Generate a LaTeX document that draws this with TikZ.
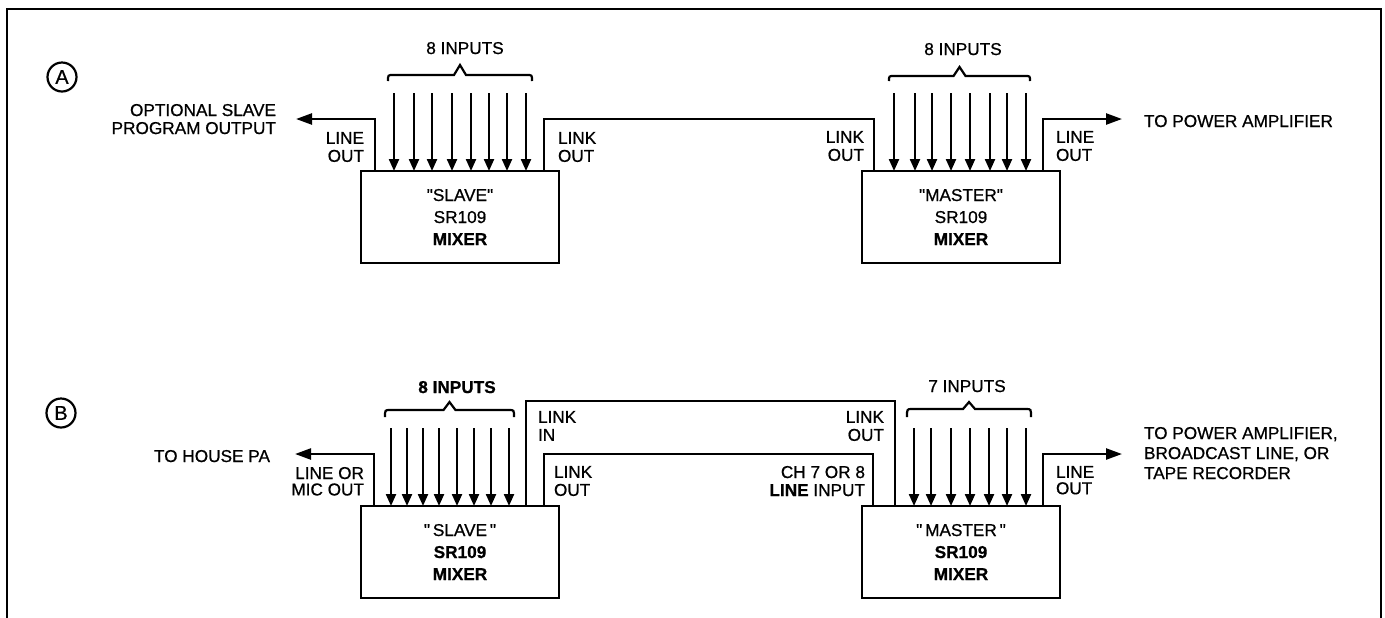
\documentclass[tikz,border=0pt]{standalone}
\usepackage{fontspec}
\setmainfont{Liberation Sans}
\newfontfamily\lett{Liberation Sans}[FakeBold=0.7]
\usetikzlibrary{arrows.meta}
\newcommand\mybrace[5]{%
  \draw[brc] (#1,#3) .. controls (#1,#4) .. (#1+5,#4) -- ({(#1+#2)/2-6},#4) -- ({(#1+#2)/2},#5) -- ({(#1+#2)/2+6},#4) -- (#2-5,#4) .. controls (#2,#4) .. (#2,#3);}
\begin{document}
\begin{tikzpicture}[x=0.5pt,y=-0.5pt,
  every node/.style={inner sep=0pt, outer sep=0pt},
  lbl/.style={font=\lett\fontsize{8.6}{9}\selectfont},
  box/.style={draw, line width=1.3pt, minimum width=99pt, minimum height=46pt, align=center, font=\lett\fontsize{8.6}{11}\selectfont},
  wire/.style={line width=1.2pt},
  inarr/.style={line width=1.1pt, -{Triangle[length=6pt,width=5pt]}},
  outarr/.style={line width=1.2pt, -{Triangle[length=8pt,width=5.5pt]}},
  tag/.style={draw, circle, line width=1.1pt, minimum size=14.5pt, font=\lett\fontsize{10}{10}\selectfont},
  brc/.style={line width=1.1pt},
]
\useasboundingbox (0,0) rectangle (1385,617);
\draw[line width=1.4pt] (7,625) -- (7,9) -- (1381,9) -- (1381,625);

% ---------------- A ----------------
\node[tag] (tA) at (62,77) {A};
\node[box] (sA) at (460,217) {"SLAVE"\\SR109\\\textbf{MIXER}};
\node[box] (mA) at (961,217) {"MASTER"\\SR109\\\textbf{MIXER}};

\node[lbl, anchor=north] (inA1) at (465,42) {8 INPUTS};
\node[lbl, anchor=north] (inA2) at (963,43) {8 INPUTS};
\mybrace{388}{532}{81}{75}{65}
\mybrace{889}{1030}{81}{76}{67}

\foreach \x [count=\i] in {394,414,432,452,471,489,507,526}
  {\coordinate (sAi\i) at (\x,93); \draw[inarr] (sAi\i) -- (sAi\i |- sA.north);}
\foreach \x [count=\i] in {894,915,932,951,970,990,1007,1026}
  {\coordinate (mAi\i) at (\x,93); \draw[inarr] (mAi\i) -- (mAi\i |- mA.north);}

\node[lbl, anchor=north east, align=right] (optA) at (276,104) {OPTIONAL SLAVE\\PROGRAM OUTPUT};
\coordinate (loA) at (375,119);
\coordinate (loAe) at (296,119);
\draw[outarr] (sA.north -| loA) -- (loA) -- (loAe);
\node[lbl, anchor=north east, align=right] (loAl) at (364,132) {LINE\\OUT};

\coordinate (lkA1) at (544,119);
\coordinate (lkA2) at (874,119);
\draw[wire] (sA.north -| lkA1) -- (lkA1) -- (lkA2) -- (mA.north -| lkA2);
\node[lbl, anchor=north west, align=left] (lkA1l) at (558,132) {LINK\\OUT};
\node[lbl, anchor=north east, align=right] (lkA2l) at (864,131) {LINK\\OUT};

\coordinate (moA) at (1043,119);
\coordinate (moAe) at (1122,119);
\draw[outarr] (mA.north -| moA) -- (moA) -- (moAe);
\node[lbl, anchor=north west, align=left] (moAl) at (1056,131) {LINE\\OUT};
\node[lbl, anchor=north west] (pwA) at (1144,115) {TO POWER AMPLIFIER};

% ---------------- B ----------------
\node[tag] (tB) at (61,413) {B};
\node[box] (sB) at (460,552) {"\,SLAVE\,"\\\textbf{SR109}\\\textbf{MIXER}};
\node[box] (mB) at (961,552) {"\,MASTER\,"\\\textbf{SR109}\\\textbf{MIXER}};

\node[lbl, anchor=north, font=\lett\fontsize{8.6}{9}\selectfont\bfseries] (inB1) at (457,381) {8 INPUTS};
\node[lbl, anchor=north] (inB2) at (967,380) {7 INPUTS};
\mybrace{385}{514}{417}{410}{402}
\mybrace{907}{1031}{417}{409}{402}

\foreach \x [count=\i] in {391,407,423,439,457,474,491,509}
  {\coordinate (sBi\i) at (\x,428); \draw[inarr] (sBi\i) -- (sBi\i |- sB.north);}
\foreach \x [count=\i] in {914,931,951,970,989,1007,1026}
  {\coordinate (mBi\i) at (\x,428); \draw[inarr] (mBi\i) -- (mBi\i |- mB.north);}

\node[lbl, anchor=north east] (hpB) at (270,450) {TO HOUSE PA};
\coordinate (loB) at (374,454);
\coordinate (loBe) at (295,454);
\draw[outarr] (sB.north -| loB) -- (loB) -- (loBe);
\node[lbl, anchor=north east, align=right, font=\lett\fontsize{8.6}{8.2}\selectfont] (loBl) at (364,467) {LINE OR\\MIC OUT};

\coordinate (liB1) at (526,401);
\coordinate (liB2) at (895,401);
\draw[wire] (sB.north -| liB1) -- (liB1) -- (liB2) -- (mB.north -| liB2);
\node[lbl, anchor=north west, align=left] (liB1l) at (538,411) {LINK\\IN};
\node[lbl, anchor=north east, align=right] (liB2l) at (884,411) {LINK\\OUT};

\coordinate (lkB1) at (544,454);
\coordinate (lkB2) at (873,454);
\draw[wire] (sB.north -| lkB1) -- (lkB1) -- (lkB2) -- (mB.north -| lkB2);
\node[lbl, anchor=north west, align=left] (lkB1l) at (554,466) {LINK\\OUT};
\node[lbl, anchor=north east, align=right] (lkB2l) at (865,466) {CH 7 OR 8\\\textbf{LINE} INPUT};

\coordinate (moB) at (1043,454);
\coordinate (moBe) at (1122,454);
\draw[outarr] (mB.north -| moB) -- (moB) -- (moBe);
\node[lbl, anchor=north west, align=left, font=\lett\fontsize{8.6}{8.2}\selectfont] (moBl) at (1056,466) {LINE\\OUT};
\node[lbl, anchor=north west, align=left, font=\lett\fontsize{8.6}{10}\selectfont] (pwB) at (1144,427) {TO POWER AMPLIFIER,\\BROADCAST LINE, OR\\TAPE RECORDER};
\end{tikzpicture}
\end{document}
